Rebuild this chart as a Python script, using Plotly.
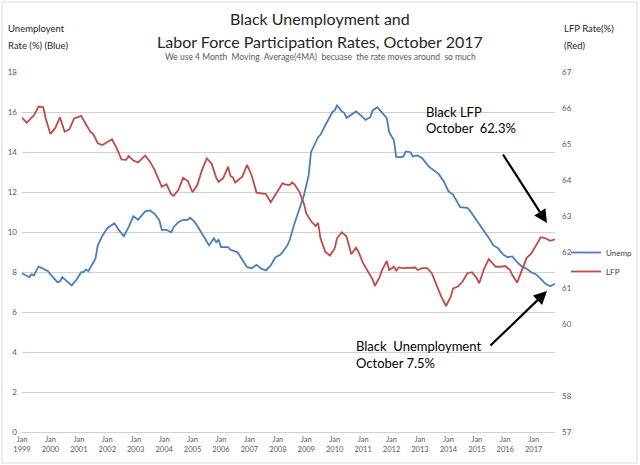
import plotly.graph_objects as go

# months counted from Jan 1999 (0) to Oct 2017 (225)
unemp_month = [0, 3, 4, 5, 7, 9, 11, 13, 15, 16, 17, 19, 21, 23, 25, 26, 27, 28, 31, 32, 34, 36,
               39, 41, 43, 45, 47, 49, 52, 54, 56, 58, 59, 61, 63, 64, 66, 68, 70, 71, 73, 75,
               77, 79, 81, 82, 83, 84, 87, 88, 90, 91, 93, 95, 97, 99, 101, 103, 105, 107, 109,
               110, 112, 113, 115, 117, 119, 121, 122, 125, 126, 128, 131, 132, 133, 135, 136,
               137, 139, 141, 143, 145, 147, 148, 150, 152, 154, 155, 157, 158, 160, 161, 162,
               164, 165, 167, 169, 170, 172, 175, 176, 178, 180, 182, 184, 185, 188, 189, 191,
               193, 195, 197, 199, 201, 203, 205, 207, 209, 211, 213, 215, 217, 219, 221, 223, 225]
unemp_rate = [7.94, 7.74, 7.88, 7.83, 8.28, 8.16, 8.04, 7.74, 7.49, 7.53, 7.74, 7.53, 7.33, 7.61,
              7.99, 7.99, 8.13, 8.04, 8.66, 9.33, 9.83, 10.19, 10.44, 10.08, 9.79, 10.24, 10.79,
              10.61, 11.03, 11.08, 10.91, 10.58, 10.11, 10.11, 9.99, 10.24, 10.49, 10.61, 10.61,
              10.71, 10.49, 10.11, 9.69, 9.33, 9.69, 9.49, 9.61, 9.24, 9.24, 9.11, 9.03, 8.99,
              8.61, 8.24, 8.19, 8.36, 8.16, 8.08, 8.33, 8.74, 8.86, 8.99, 9.33, 9.6, 10.41, 11.16,
              11.83, 12.83, 13.99, 14.74, 14.86, 15.33, 15.99, 16.08, 16.33, 16.03, 15.96, 15.71,
              15.86, 16.03, 15.83, 15.61, 15.74, 16.08, 16.24, 15.96, 15.69, 14.99, 14.58, 13.74,
              13.74, 13.78, 14.03, 13.99, 13.78, 13.83, 13.69, 13.53, 13.24, 12.99, 12.88, 12.54,
              12.04, 11.86, 11.49, 11.24, 11.21, 11.08, 10.74, 10.41, 10.08, 9.71, 9.33, 9.19,
              8.88, 8.74, 8.78, 8.49, 8.28, 8.16, 7.99, 7.88, 7.66, 7.41, 7.29, 7.41]

lfp_month = [0, 2, 4, 5, 7, 9, 10, 12, 14, 16, 18, 20, 22, 25, 27, 29, 30, 32, 34, 36, 38, 40,
             42, 44, 45, 47, 49, 52, 54, 56, 58, 59, 61, 63, 64, 66, 68, 70, 72, 74, 76, 78, 80,
             82, 83, 85, 87, 88, 89, 90, 93, 95, 97, 99, 101, 103, 105, 107, 110, 111, 113, 114,
             115, 117, 119, 120, 122, 124, 125, 126, 128, 130, 132, 133, 135, 137, 138, 139, 141,
             142, 144, 146, 148, 149, 151, 152, 154, 155, 157, 158, 159, 161, 163, 166, 167, 169,
             171, 173, 175, 177, 179, 181, 182, 184, 186, 188, 190, 192, 193, 195, 197, 200, 202,
             204, 206, 207, 209, 211, 213, 215, 217, 219, 221, 223, 225]
lfp_rate = [65.73, 65.59, 65.73, 65.79, 66.04, 66.02, 65.71, 65.28, 65.44, 65.74, 65.34, 65.41,
            65.71, 65.78, 65.55, 65.33, 65.28, 65.02, 64.97, 65.06, 65.13, 64.88, 64.57, 64.56,
            64.67, 64.54, 64.49, 64.68, 64.51, 64.28, 63.97, 63.81, 63.88, 63.60, 63.56, 63.72,
            64.06, 63.97, 63.66, 63.86, 64.28, 64.60, 64.46, 64.06, 63.95, 64.06, 64.37, 64.11,
            64.07, 63.93, 64.09, 64.42, 64.12, 63.65, 63.63, 63.61, 63.38, 63.60, 63.91, 63.88,
            63.86, 63.93, 63.88, 63.68, 63.35, 63.07, 62.86, 62.72, 62.81, 62.38, 62.01, 61.90,
            62.10, 62.38, 62.55, 62.43, 62.15, 61.94, 62.12, 62.01, 61.69, 61.45, 61.24, 61.06,
            61.31, 61.50, 61.75, 61.50, 61.59, 61.48, 61.57, 61.55, 61.55, 61.57, 61.50, 61.55,
            61.55, 61.41, 61.08, 60.76, 60.50, 60.76, 60.99, 61.04, 61.18, 61.41, 61.44, 61.27,
            61.13, 61.52, 61.80, 61.59, 61.59, 61.61, 61.50, 61.36, 61.15, 61.50, 61.83, 61.96,
            62.19, 62.41, 62.38, 62.31, 62.35]

years = [str(y) for y in range(1999, 2018)]
tick_text = ["Jan<br>" + y for y in years]
left_ticks = [0, 2, 4, 6, 8, 10, 12, 14, 16, 18]
right_ticks = [57, 58, 60, 61, 62, 63, 64, 65, 66, 67]

# layout in pixels (Excel-like chart)
W, H = 640, 465
L, R, T, B = 22, 85, 72, 33
PW, PH = W - L - R, H - T - B

def px(x):
    return (x - L) / PW

def py(y):
    return (T + PH - y) / PH

FONT = "Lato, 'Liberation Sans', sans-serif"
GREY = "#595959"

fig = go.Figure()
fig.add_trace(go.Scatter(x=unemp_month, y=unemp_rate, name="Unemp", mode="lines",
                         line=dict(color="#4A7EBB", width=1.8)))
fig.add_trace(go.Scatter(x=lfp_month, y=lfp_rate, name="LFP", mode="lines", yaxis="y2",
                         line=dict(color="#BE4B48", width=1.8)))

texts = [
    # (text, x, y, size, color, anchor)
    ("Black Unemployment and", 320, 18, 16, "#262626", "center"),
    ("Labor Force Participation Rates, October 2017", 320, 41, 16, "#262626", "center"),
    ("We use 4 Month  Moving  Average(4MA)  becuase  the rate moves around  so much", 320, 57, 8.5, GREY, "center"),
    ("Unemployent", 6, 29, 9.5, "#262626", "left"),
    ("Rate (%) (Blue)", 6, 45, 9.5, "#262626", "left"),
    ("LFP Rate(%)", 562, 29, 9.5, "#262626", "left"),
    ("(Red)", 562, 45, 9.5, "#262626", "left"),
    ("Black LFP", 424, 112, 13, "#000000", "left"),
    ("October  62.3%", 424, 128, 13, "#000000", "left"),
    ("Black  Unemployment", 354, 346, 13, "#000000", "left"),
    ("October 7.5%", 354, 363, 13, "#000000", "left"),
]
for t, x, y, s, c, a in texts:
    fig.add_annotation(text=t, x=px(x), y=py(y), xref="paper", yref="paper", showarrow=False,
                       xanchor=a, yanchor="middle", font=dict(family=FONT, size=s, color=c))

# arrows (tail -> head, pixels)
for (x0, y0), (x1, y1) in [((502, 153), (547, 223)), ((489, 347), (547, 291))]:
    fig.add_annotation(x=px(x1), y=py(y1), ax=x0 - x1, ay=y0 - y1, xref="paper", yref="paper",
                       axref="pixel", ayref="pixel", text="", showarrow=True,
                       arrowhead=2, arrowsize=1.2, arrowwidth=2.2, arrowcolor="#000000")

# chart border
fig.add_shape(type="rect", xref="paper", yref="paper", x0=px(2), x1=px(637), y0=py(463), y1=py(2),
              line=dict(color="#d9d9d9", width=1), fillcolor="rgba(0,0,0,0)")

fig.update_layout(
    width=W, height=H,
    margin=dict(l=L, r=R, t=T, b=B, autoexpand=False),
    paper_bgcolor="white", plot_bgcolor="white",
    font=dict(family=FONT, size=8, color=GREY),
    showlegend=True,
    legend=dict(x=px(566), y=py(262), xanchor="left", yanchor="middle",
                font=dict(size=8, color="#404040"), itemwidth=30, tracegroupgap=0,
                bgcolor="rgba(0,0,0,0)"),
    xaxis=dict(range=[0, 225], tickvals=[12 * i for i in range(len(years))], ticktext=tick_text,
               showgrid=False, zeroline=False, showline=True, linecolor="#d0d0d0", linewidth=1,
               ticks="", tickfont=dict(size=7.5, color=GREY), tickangle=0),
    yaxis=dict(range=[0, 18], tickvals=left_ticks, showgrid=True, gridcolor="#d0d0d0",
               gridwidth=1, zeroline=False, ticks="", tickfont=dict(size=8, color=GREY),
               ticklabelstandoff=4),
    yaxis2=dict(range=[57, 67], tickvals=right_ticks, overlaying="y", side="right",
                showgrid=False, zeroline=False, ticks="", tickfont=dict(size=8, color=GREY),
                ticklabelstandoff=6),
)

fig.write_html("out.html", config={"displayModeBar": False},
               post_script="document.body.style.margin='0px';")
